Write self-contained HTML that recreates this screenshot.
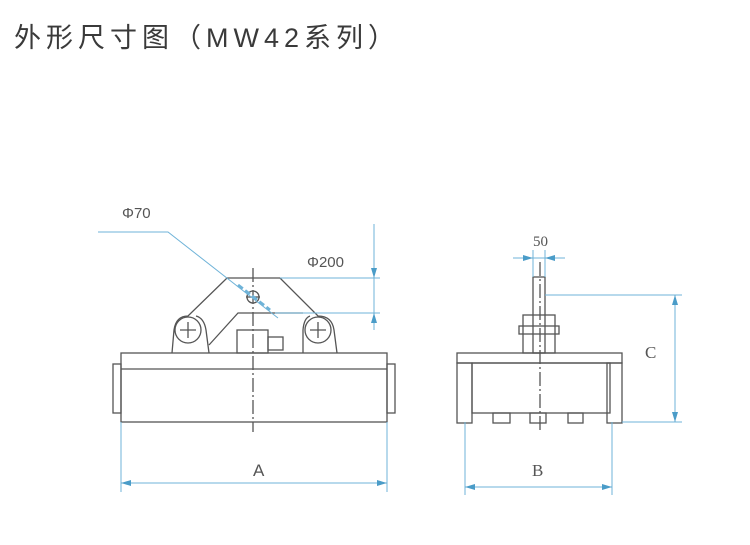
<!DOCTYPE html>
<html><head><meta charset="utf-8"><style>
body{margin:0;background:#fff;}
.t{position:absolute;left:14px;top:16px;font:27px "Liberation Sans","Noto Sans CJK SC",sans-serif;color:#3a3a3a;letter-spacing:5px;white-space:nowrap}
</style></head><body>
<div class="t">外形尺寸图（MW42系列）</div>
<svg width="750" height="545" style="position:absolute;left:0;top:0" xmlns="http://www.w3.org/2000/svg">
<g fill="none" stroke="#555" stroke-width="1.3">
<rect x="121" y="353" width="266" height="69"/>
<line x1="121" y1="369" x2="387" y2="369"/>
<rect x="113" y="364" width="8" height="49"/>
<rect x="387" y="364" width="8" height="49"/>
<path d="M172 353 L174 330 Q176 316 188 316 L227 278 L280 278 L318 316 Q332 316 334 330 L337 353"/>
<path d="M209 353 L206 330 Q204 318 196 316 M303 353 L303 330 Q304 318 310 316"/>
<path d="M209 345 L238 313 L303 313"/>
<circle cx="188" cy="330" r="13"/>
<circle cx="318" cy="330" r="13"/>
<path d="M180 330h16M188 322v16M310 330h16M318 322v16"/>
<circle cx="253" cy="297" r="6"/>
<path d="M246 297h14"/>
<rect x="237" y="330" width="31" height="23"/>
<rect x="268" y="337" width="15" height="13"/>
<line x1="253" y1="268" x2="253" y2="432" stroke-dasharray="14,3,2,3"/>
<rect x="457" y="353" width="165" height="10"/>
<rect x="472" y="363" width="138" height="50"/>
<rect x="457" y="363" width="15" height="60"/>
<rect x="607" y="363" width="15" height="60"/>
<rect x="493" y="413" width="17" height="10"/>
<rect x="530" y="413" width="16" height="10"/>
<rect x="568" y="413" width="15" height="10"/>
<rect x="533" y="277" width="12" height="76"/>
<rect x="523" y="315" width="32" height="38"/>
<rect x="519" y="326" width="40" height="8"/>
<line x1="540" y1="262" x2="540" y2="432" stroke-dasharray="14,3,2,3"/>
</g>
<g fill="none" stroke="#6fb3d8" stroke-width="1">
<path d="M98 232 H168 L278 318"/>
<line x1="238" y1="285" x2="270" y2="310" stroke-width="3" stroke-dasharray="6,3"/>
<path d="M280 278 H380 M275 313 H380 M374 224 V330"/>
<path d="M121 422 V492 M387 422 V492 M121 483 H387"/>
<path d="M533 250 V277 M545 250 V277 M513 258 H565"/>
<path d="M545 295 H682 M622 422 H682 M675 295 V422"/>
<path d="M465 422 V495 M612 422 V495 M465 487 H612"/>
</g>
<g fill="#4a9cc8">
<path d="M374 278 l-3 -10 h6z M374 313 l-3 10 h6z"/>
<path d="M121 483 l10 -3 v6z M387 483 l-10 -3 v6z"/>
<path d="M533 258 l-10 -3 v6z M545 258 l10 -3 v6z"/>
<path d="M675 295 l-3 10 h6z M675 422 l-3 -10 h6z"/>
<path d="M465 487 l10 -3 v6z M612 487 l-10 -3 v6z"/>
</g>
<g font-family="Liberation Sans,sans-serif" fill="#555" font-size="15">
<text x="122" y="218">Φ70</text>
<text x="307" y="267">Φ200</text>
<text x="533" y="246" font-family="Liberation Serif,serif">50</text>
<text x="253" y="476" font-size="17">A</text>
<text x="532" y="476" font-size="17" font-family="Liberation Serif,serif">B</text>
<text x="645" y="358" font-size="17" font-family="Liberation Serif,serif">C</text>
</g>
</svg>
</body></html>
